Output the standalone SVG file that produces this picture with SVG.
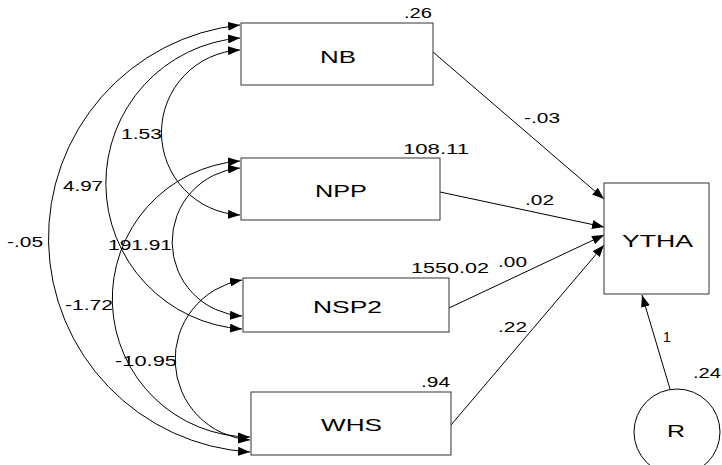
<svg xmlns="http://www.w3.org/2000/svg" width="722" height="465" viewBox="0 0 722 465">
<defs>
<marker id="ah" viewBox="0 0 12 9" refX="12" refY="4.5" markerWidth="12" markerHeight="9" markerUnits="userSpaceOnUse" orient="auto-start-reverse">
<path d="M0,0 L12,4.5 L0,9 z" fill="#000"/>
</marker>
<style>
.box{fill:#fff;stroke:#333;stroke-width:1}
.name{font-family:"Liberation Sans",Arial,sans-serif;font-size:17px;fill:#000}
.num{font-family:"Liberation Sans",Arial,sans-serif;font-size:14px;fill:#000}
.cov{fill:none;stroke:#000;stroke-width:1;marker-start:url(#ah);marker-end:url(#ah)}
.path{fill:none;stroke:#000;stroke-width:1;marker-end:url(#ah)}
</style>
</defs>
<rect width="722" height="465" fill="#fff"/>
<g id="connectors">
<path class="cov" d="M240,50 A82.6,82.6 0 0 0 240,215"/>
<path class="cov" d="M240,38 A145.9,145.9 0 0 0 242,329"/>
<path class="cov" d="M240,25 A214.3,214.3 0 0 0 250,452"/>
<path class="cov" d="M240,161 A138.2,138.2 0 0 0 250,437"/>
<path class="cov" d="M240,168 A74.2,74.2 0 0 0 242,316"/>
<path class="cov" d="M242,280 A80.7,80.7 0 0 0 250,440"/>
<path class="path" d="M433,52 L604,199"/>
<path class="path" d="M440,192 L604,227"/>
<path class="path" d="M449,308 L604,235"/>
<path class="path" d="M451,425 L604,245"/>
<path class="path" d="M670,389 L642,295"/>
<text class="num" x="524" y="123" textLength="36" lengthAdjust="spacingAndGlyphs">-.03</text>
<text class="num" x="525" y="205" textLength="29" lengthAdjust="spacingAndGlyphs">.02</text>
<text class="num" x="498" y="267" textLength="29" lengthAdjust="spacingAndGlyphs">.00</text>
<text class="num" x="498" y="332" textLength="29" lengthAdjust="spacingAndGlyphs">.22</text>
<text class="num" x="663" y="342">1</text>
<text class="num" x="121" y="139" textLength="41" lengthAdjust="spacingAndGlyphs">1.53</text>
<text class="num" x="63" y="191" textLength="40" lengthAdjust="spacingAndGlyphs">4.97</text>
<text class="num" x="7" y="247" textLength="36" lengthAdjust="spacingAndGlyphs">-.05</text>
<text class="num" x="108" y="250" textLength="64" lengthAdjust="spacingAndGlyphs">191.91</text>
<text class="num" x="65" y="310" textLength="48" lengthAdjust="spacingAndGlyphs">-1.72</text>
<text class="num" x="115" y="366" textLength="62" lengthAdjust="spacingAndGlyphs">-10.95</text>
</g>
<g id="NB">
<rect class="box" x="241" y="23" width="192" height="62"/>
<text class="name" x="320" y="63" textLength="36" lengthAdjust="spacingAndGlyphs">NB</text>
<text class="num" x="404" y="18" textLength="28" lengthAdjust="spacingAndGlyphs">.26</text>
</g>
<g id="NPP">
<rect class="box" x="241" y="158" width="199" height="62"/>
<text class="name" x="315" y="197" textLength="52" lengthAdjust="spacingAndGlyphs">NPP</text>
<text class="num" x="403" y="154" textLength="66" lengthAdjust="spacingAndGlyphs">108.11</text>
</g>
<g id="NSP2">
<rect class="box" x="243" y="278" width="206" height="54"/>
<text class="name" x="313" y="313" textLength="69" lengthAdjust="spacingAndGlyphs">NSP2</text>
<text class="num" x="411" y="273" textLength="78" lengthAdjust="spacingAndGlyphs">1550.02</text>
</g>
<g id="WHS">
<rect class="box" x="251" y="392" width="200" height="63"/>
<text class="name" x="321" y="431" textLength="61" lengthAdjust="spacingAndGlyphs">WHS</text>
<text class="num" x="421" y="387" textLength="29" lengthAdjust="spacingAndGlyphs">.94</text>
</g>
<g id="YTHA">
<rect class="box" x="604" y="183" width="105" height="111"/>
<text class="name" x="622" y="247" textLength="71" lengthAdjust="spacingAndGlyphs">YTHA</text>
</g>
<g id="R">
<circle cx="677" cy="432" r="43" fill="#fff" stroke="#000" stroke-width="1"/>
<text class="name" x="667" y="437" textLength="18" lengthAdjust="spacingAndGlyphs">R</text>
<text class="num" x="693" y="378" textLength="28" lengthAdjust="spacingAndGlyphs">.24</text>
</g>
</svg>
